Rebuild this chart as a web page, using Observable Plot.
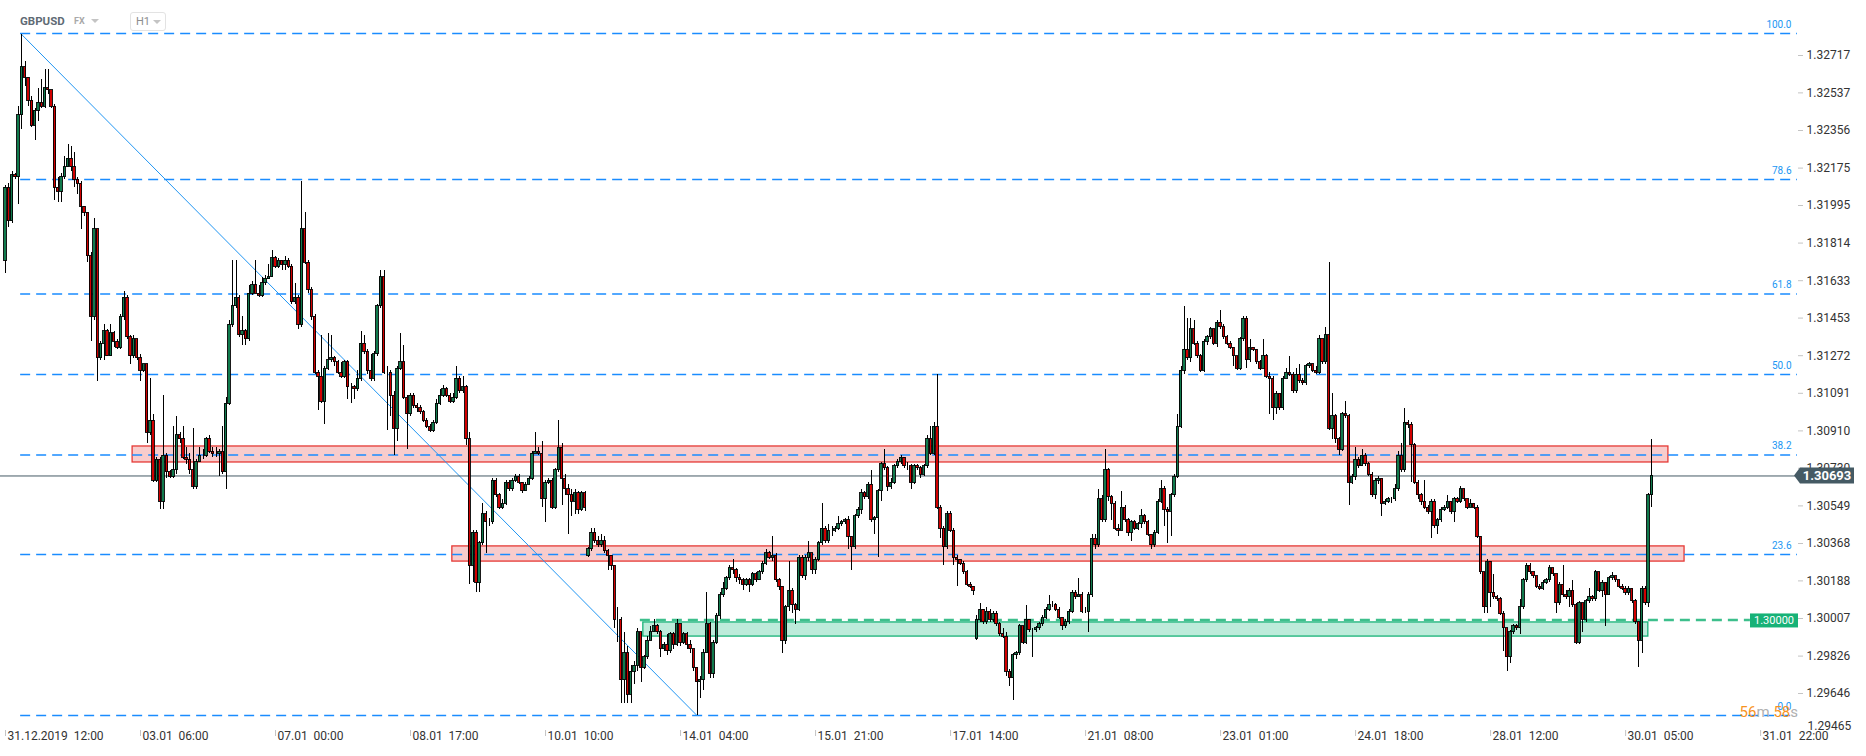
<!DOCTYPE html>
<html>
<head>
<meta charset="utf-8">
<script src="https://cdn.jsdelivr.net/npm/d3@7"></script>
<script src="https://cdn.jsdelivr.net/npm/@observablehq/plot@0.6"></script>
<style>
html, body { margin: 0; padding: 0; background: #fff; }
#wrap { position: relative; width: 1866px; height: 756px; font-family: Roboto, sans-serif; overflow: hidden; }
#chart svg { display: block; }
.hdr { position: absolute; white-space: nowrap; }
.tri { position: absolute; width: 0; height: 0; border-left: 4px solid transparent; border-right: 4px solid transparent; border-top: 4px solid #c4c4c4; }
</style>
</head>
<body>
<div id="wrap">
  <div id="chart"></div>
  <div class="hdr" style="left:20px;top:14px;font-size:11.5px;font-weight:bold;color:#5f6b75;">GBPUSD</div>
  <div class="hdr" style="left:74px;top:16px;font-size:9px;font-weight:bold;color:#a9a9a9;">FX</div>
  <div class="tri" style="left:91px;top:19px;"></div>
  <div class="hdr" style="left:130px;top:12px;width:34px;height:17px;border:1px solid #e3e3e3;border-radius:3px;"></div>
  <div class="hdr" style="left:136px;top:15px;font-size:11px;color:#8d8d8d;">H1</div>
  <div class="tri" style="left:153px;top:20px;"></div>
</div>
<script>
// ---------- data (prices in pips above BASE, i.e. price = BASE + pips / 10000) ----------
const BASE = 1.29;
const firstOpenPips = 273;
const gapOpenIndex = [177, 295];   // first candle after a weekend gap
const gapOpenPips  = [131, 91];

const closePips = [
308,292,314,313,343,366,361,350,338,345,349,347,356,355,347,308,306,313,318,322,
318,312,310,299,296,275,246,288,226,233,239,227,238,234,231,246,255,236,227,235,
226,220,223,190,196,167,177,157,179,171,169,172,189,187,178,177,172,164,176,179,
179,187,181,180,180,181,171,204,242,251,255,237,239,235,257,261,257,256,262,264,
265,274,270,273,
271,273,270,253,255,242,288,272,259,246,219,217,205,221,225,226,224,219,217,224,
212,212,211,216,233,229,220,216,228,251,265,219,219,208,192,221,224,207,199,208,
203,202,200,196,193,191,195,204,208,211,208,205,207,216,210,212,187,126,142,118,
137,151,147,147,167,160,154,156,166,163,167,169,166,162,165,168,180,181,180,158,
166,167,154,172,183,
168,163,160,157,161,153,161,154,134,142,138,136,138,133,131,126,100,100,71,84,
64,75,78,94,77,82,90,94,97,94,86,88,85,93,88,98,89,93,88,86,
77,70,71,84,98,74,89,102,112,115,120,125,124,120,119,117,119,117,122,119,
123,127,132,130,131,119,116,90,106,114,107,105,130,121,130,132,124,129,137,144,
138,143,
143,144,146,147,148,140,135,150,153,161,159,165,148,149,162,175,173,164,166,174,
176,178,174,174,166,174,173,170,174,187,180,193,154,144,135,151,143,130,129,127,
123,117,116,114,100,105,99,104,100,103,98,93,92,75,72,83,84,97,89,100,
95,95,96,98,101,105,107,107,105,101,97,99,104,113,111,112,104,104,112,139,
136,158,148,172,159,
156,144,143,154,148,142,147,144,146,150,147,141,136,142,157,163,153,152,160,169,
193,220,230,226,240,233,227,220,234,236,240,233,243,241,236,233,231,227,221,235,
245,225,231,230,224,221,227,217,216,202,209,202,216,219,218,210,218,215,214,222,
223,220,219,235,224,237,192,198,187,182,199,198,166,169,177,174,179,175,170,160,
167,168,156,157,158,
158,163,179,172,195,194,184,166,160,157,154,152,157,145,148,153,154,157,152,158,
157,163,158,154,156,154,140,123,106,128,113,111,110,103,96,82,94,97,96,106,
119,126,123,121,116,115,118,119,125,122,108,117,112,111,114,107,89,108,100,109,
111,110,123,114,118,112,120,121,119,116,115,113,115,109,99,90,115,108,160,169.3
];

const highPips = [
309,310,316,315,347,382,369,361,352,346,356,360,365,365,355,348,313,315,323,329,
328,325,313,311,299,296,277,293,288,234,242,240,242,239,235,247,258,256,237,237,
235,228,223,223,216,199,178,178,208,180,172,193,198,190,193,183,180,192,177,183,
182,188,189,183,183,182,193,207,244,273,273,256,246,240,261,263,273,261,265,266,
271,278,275,274,
273,275,274,271,262,256,311,296,273,260,247,220,237,222,238,237,227,225,224,225,
225,214,213,220,239,237,230,228,229,252,268,268,222,220,210,222,238,232,208,209,
209,204,203,201,197,194,196,206,211,213,212,209,209,222,217,217,213,190,143,143,
138,156,152,149,168,168,161,158,167,167,168,170,170,166,166,169,181,190,183,186,
167,168,168,173,196,
185,170,165,163,163,162,162,162,135,144,144,140,141,140,134,131,126,106,101,94,
87,78,80,96,94,83,92,97,100,98,95,89,93,94,94,100,98,94,94,90,
86,77,73,86,113,99,90,103,113,118,121,126,129,125,122,120,120,120,123,123,
124,128,134,133,140,132,120,116,107,128,115,108,131,131,131,138,128,130,138,156,
145,146,
145,145,150,148,149,150,140,151,154,163,162,166,172,150,163,176,182,174,168,175,
177,179,178,176,175,175,175,174,175,189,193,195,218,155,145,152,152,144,131,129,
128,124,118,116,102,108,105,106,105,104,104,99,96,94,76,84,85,98,97,107,
100,96,97,99,102,106,112,109,108,106,101,100,105,114,114,120,113,106,113,141,
141,163,160,182,173,
160,157,146,162,155,149,148,148,147,153,151,148,141,143,158,167,164,154,161,170,
199,222,251,245,245,244,234,228,235,237,241,240,244,249,242,237,234,231,227,236,
246,246,235,231,230,225,235,228,219,217,210,209,217,221,227,219,221,223,216,223,
224,223,222,237,235,241,272,209,199,188,200,205,199,170,183,178,182,180,176,171,
168,169,168,158,159,
159,165,181,185,202,196,195,185,167,161,167,155,158,158,149,154,155,160,157,159,
159,164,163,158,158,156,155,140,123,129,128,122,112,111,104,96,95,98,98,110,
120,127,127,123,121,117,119,120,126,125,122,118,126,114,115,119,108,109,108,110,
115,112,124,123,119,118,121,123,121,119,117,116,116,115,110,99,116,116,161,187
];

const lowPips = [
267,289,291,312,300,336,357,347,337,331,340,346,346,353,346,302,301,301,312,318,
316,308,305,288,294,272,234,244,215,225,225,227,227,231,230,230,244,235,223,226,
225,215,219,185,189,166,166,153,153,168,168,168,170,185,177,175,170,163,163,176,
177,178,180,178,178,169,170,163,203,241,250,236,232,232,234,256,257,255,255,261,
264,265,269,269,
268,268,269,252,252,240,241,271,257,244,218,201,204,194,220,224,222,218,216,216,
206,204,206,210,215,228,218,215,215,227,250,218,191,198,179,186,220,206,182,198,
202,200,199,195,192,190,190,194,203,207,207,204,204,206,209,209,184,117,118,113,
113,136,132,145,146,159,153,153,155,162,162,166,165,161,162,165,167,180,179,154,
147,165,153,153,171,
155,160,141,150,151,151,152,152,130,133,137,135,135,132,124,124,96,89,60,60,
60,60,69,75,70,76,81,90,94,93,82,85,83,84,86,87,87,88,86,84,
75,54,62,66,84,72,72,88,100,111,114,119,122,118,117,114,116,113,116,118,
119,122,126,129,128,118,114,84,88,104,103,98,104,120,119,128,122,122,128,136,
137,137,
140,142,143,145,146,134,124,134,149,151,158,158,147,141,130,157,172,162,163,165,
173,175,173,172,163,165,172,168,169,173,179,179,153,139,126,134,142,126,116,126,
122,116,115,112,90,99,98,98,99,99,97,92,91,73,68,61,81,83,88,88,
94,82,94,95,97,100,104,106,104,100,95,96,98,103,110,111,103,103,94,111,
134,135,147,147,157,
148,143,140,143,147,140,138,143,143,144,146,140,134,135,141,156,145,137,140,159,
168,192,218,225,224,232,226,219,219,232,235,232,231,240,235,232,230,222,220,220,
234,221,224,229,223,220,221,216,199,196,199,201,201,216,217,209,209,214,213,213,
221,219,218,218,223,223,191,187,185,179,181,197,155,165,167,173,174,174,169,159,
158,165,150,155,156,
156,157,162,171,171,192,166,165,158,155,153,151,139,144,141,147,152,153,151,147,
156,156,157,153,154,153,139,122,103,103,106,110,109,102,85,75,79,93,95,93,
105,118,122,120,115,114,114,117,118,121,103,107,111,110,106,106,88,88,94,99,
108,109,109,113,111,97,112,119,118,115,114,112,112,108,98,77,84,107,106,154
];

// time axis: candle index of each label, and the label text
const timeTickIndex = [0, 41, 82, 123, 164, 205, 246, 287, 328, 369, 410, 451, 492, 533];
const timeTickLabels = ["31.12.2019  12:00", "03.01  06:00", "07.01  00:00", "08.01  17:00",
  "10.01  10:00", "14.01  04:00", "15.01  21:00", "17.01  14:00", "21.01  08:00",
  "23.01  01:00", "24.01  18:00", "28.01  12:00", "30.01  05:00", "31.01  22:00"];

// price axis
const priceTicks = [1.32717, 1.32537, 1.32356, 1.32175, 1.31995, 1.31814, 1.31633, 1.31453,
  1.31272, 1.31091, 1.30910, 1.30730, 1.30549, 1.30368, 1.30188, 1.30007, 1.29826, 1.29646];
const bottomPriceLabel = [1.29465];

// Fibonacci retracement (high of 31.12 to low of 14.01)
const fibHigh = 1.32823, fibLow = 1.29540;
const fibStartIndex = 4.6, fibEndIndex = 210;
const fibLevels = [100, 78.6, 61.8, 50, 38.2, 23.6, 0];
const fibLabels = ["100.0", "78.6", "61.8", "50.0", "38.2", "23.6", "0.0"];

// zones
const zoneStart = [38.6, 135.7, 193.7];
const zoneEnd   = [505, 509.9, 498.9];
const zoneLow   = [1.30758, 1.30281, 1.29920];
const zoneHigh  = [1.30835, 1.30354, 1.29988];
const zoneKind  = ["resistance", "resistance", "support"];

// level and last price
const levelPrice = 1.30000, levelStart = 192.8, levelEnd = 529.9;
const lastPrice = 1.30693;
const countdown = ["56", "m", " ", "58", "s"];

// ---------- build candles ----------
const candles = closePips.map((c, i) => {
  const g = gapOpenIndex.indexOf(i);
  const oP = g >= 0 ? gapOpenPips[g] : (i === 0 ? firstOpenPips : closePips[i - 1]);
  const open = BASE + oP / 1e4, close = BASE + c / 1e4;
  const high = Math.max(BASE + highPips[i] / 1e4, open, close);
  const low = Math.min(BASE + lowPips[i] / 1e4, open, close);
  return {i, open, close, high, low, up: close >= open};
});

const fibPrice = l => fibLow + l / 100 * (fibHigh - fibLow);
const xDomain = [-1.518, 544.2];
const yDomain = [1.294679, 1.329817];
const zoneIdx = zoneKind.map((_, i) => i);
const resIdx = zoneIdx.filter(i => zoneKind[i] === "resistance");
const supIdx = zoneIdx.filter(i => zoneKind[i] === "support");

const plot = Plot.plot({
  width: 1866,
  height: 756,
  marginLeft: 0,
  marginRight: 69,
  marginTop: 0,
  marginBottom: 26,
  x: {domain: xDomain, axis: null, label: null},
  y: {domain: yDomain, axis: null, label: null},
  style: {fontFamily: "Roboto, sans-serif", fontSize: "12px", background: "transparent", overflow: "visible"},
  marks: [
    Plot.rect(resIdx, {x1: i => zoneStart[i], x2: i => zoneEnd[i], y1: i => zoneLow[i], y2: i => zoneHigh[i],
      fill: "#f8cccc", stroke: "#e53935", strokeWidth: 1.3}),
    Plot.rect(supIdx, {x1: i => zoneStart[i], x2: i => zoneEnd[i], y1: i => zoneLow[i], y2: i => zoneHigh[i],
      fill: "#bdebda", stroke: "#17b277", strokeWidth: 1.3}),
    Plot.ruleY(fibLevels, {y: fibPrice, x1: () => fibStartIndex, x2: () => xDomain[1],
      stroke: "#1a8cff", strokeWidth: 1.4, strokeDasharray: "10,6"}),
    Plot.text(fibLevels, {y: fibPrice, text: (l, i) => fibLabels[i], frameAnchor: "right", dx: -6, dy: -9,
      textAnchor: "end", fill: "#2196f3", fontSize: 10}),
    Plot.line([[fibStartIndex, fibHigh], [fibEndIndex, fibLow]], {x: d => d[0], y: d => d[1],
      stroke: "#2196f3", strokeWidth: 1}),
    Plot.ruleY([levelPrice], {x1: () => levelStart, x2: () => levelEnd, stroke: "#3dbf8c",
      strokeWidth: 2.5, strokeDasharray: "10,6"}),
    Plot.ruleY([lastPrice], {stroke: "#455a64", strokeWidth: 1}),
    Plot.ruleX(candles, {x: "i", y1: "low", y2: "high", stroke: "#000", strokeWidth: 1, shapeRendering: "crispEdges"}),
    Plot.rect(candles, {x1: d => d.i - 0.36, x2: d => d.i + 0.36, y1: "open", y2: "close",
      fill: d => d.up ? "#117a4d" : "#d10000", stroke: "#000", strokeWidth: 0.9, shapeRendering: "crispEdges"}),
    Plot.axisY({anchor: "right", label: null, ticks: priceTicks, tickSize: 5, tickPadding: 4,
      tickFormat: d => d.toFixed(5), stroke: "#c4c4c4", fill: "#333", fontSize: 12}),
    Plot.text(bottomPriceLabel, {y: d => d, text: d => d.toFixed(5), frameAnchor: "right", dx: 10, dy: -5,
      textAnchor: "start", fill: "#333", fontSize: 12}),
    Plot.axisX({label: null, ticks: timeTickIndex, tickSize: 6, tickFormat: () => "", stroke: "#c4c4c4"}),
    Plot.text(timeTickIndex, {x: d => d, text: (d, i) => timeTickLabels[i].replace(/ /g, "\u00a0"),
      frameAnchor: "bottom", dy: 9, dx: 2, textAnchor: "start", fill: "#333", fontSize: 12})
  ]
});
document.getElementById("chart").appendChild(plot);

// ---------- overlays positioned through the plot's y scale ----------
const svg = d3.select(plot);
const ys = plot.scale("y");
const yb = ys.apply(lastPrice);
svg.append("path")
  .attr("d", `M1794,${yb} L1800,${yb - 8} H1854 V${yb + 8} H1800 Z`)
  .attr("fill", "#455a64");
svg.append("text")
  .attr("x", 1827).attr("y", yb).attr("dy", "0.36em").attr("text-anchor", "middle")
  .attr("fill", "#fff").attr("font-weight", "bold").attr("font-size", 13)
  .attr("font-family", "Roboto, sans-serif").text(lastPrice.toFixed(5));

const yl = ys.apply(levelPrice);
svg.append("rect").attr("x", 1750).attr("y", yl - 6).attr("width", 48).attr("height", 14).attr("fill", "#17b277");
svg.append("text")
  .attr("x", 1774).attr("y", yl + 1).attr("dy", "0.35em").attr("text-anchor", "middle")
  .attr("fill", "#fff").attr("font-size", 11).attr("font-family", "Roboto, sans-serif")
  .text(levelPrice.toFixed(5));

const cd = svg.append("text").attr("x", 1798).attr("y", ys.apply(fibLow) + 2)
  .attr("text-anchor", "end").attr("font-size", 15).attr("font-family", "Roboto, sans-serif");
const cdColors = ["#f7931e", "#b0b0b0", "#b0b0b0", "#f7931e", "#b0b0b0"];
countdown.forEach((t, i) => cd.append("tspan").attr("fill", cdColors[i]).text(t === " " ? "\u00a0" : t));
</script>
</body>
</html>
